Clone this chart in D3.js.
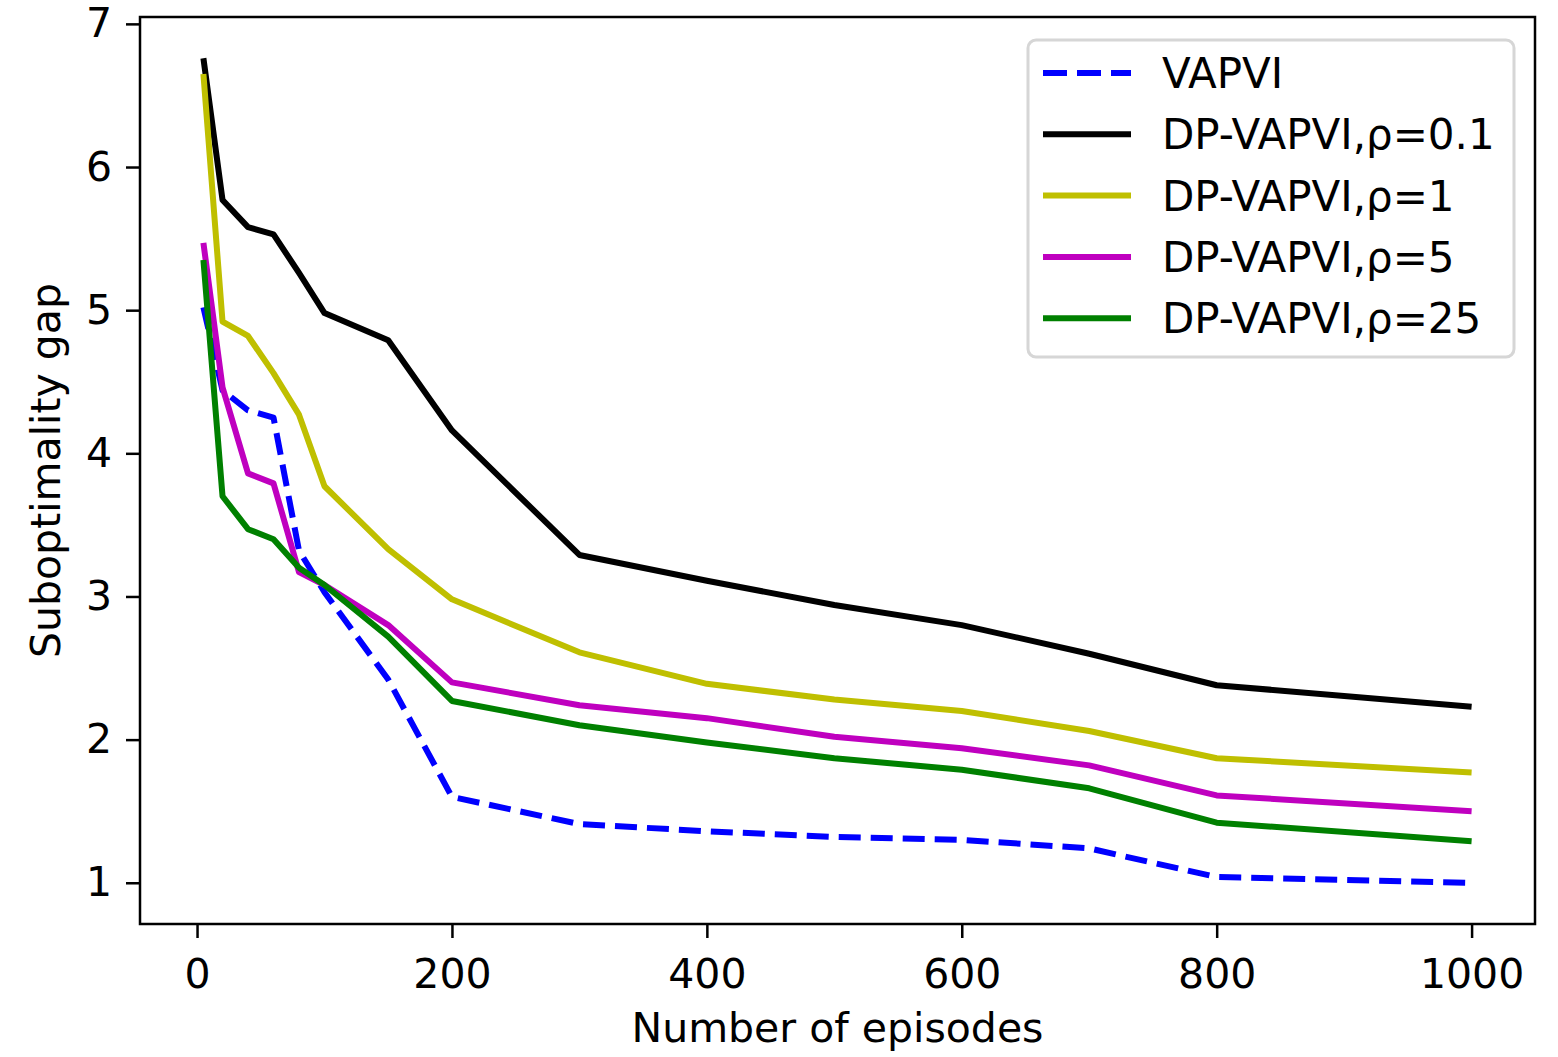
<!doctype html>
<html>
<head>
    <script src="https://d3js.org/d3.v7.min.js"></script>
</head>
<style>
    body { margin: 0; background: white; }
    svg text { font-family: "DejaVu Sans", sans-serif; fill: black; }
</style>
<body>
<script>
    // episodes on x axis
    var episodes = [5, 20, 40, 60, 80, 100, 150, 200, 300, 400, 500, 600, 700, 800, 1000];

    var vapvi   = [5.02, 4.44, 4.30, 4.25, 3.32, 3.03, 2.42, 1.60, 1.41, 1.36, 1.32, 1.30, 1.24, 1.04, 1.00];
    var rho0_1  = [6.76, 5.77, 5.58, 5.53, 5.26, 4.98, 4.79, 4.16, 3.29, 3.11, 2.94, 2.80, 2.60, 2.38, 2.23];
    var rho1    = [6.65, 4.92, 4.82, 4.56, 4.27, 3.77, 3.33, 2.98, 2.61, 2.39, 2.28, 2.20, 2.06, 1.87, 1.77];
    var rho5    = [5.47, 4.46, 3.86, 3.79, 3.17, 3.08, 2.80, 2.40, 2.24, 2.15, 2.02, 1.94, 1.82, 1.61, 1.50];
    var rho25   = [5.35, 3.70, 3.47, 3.40, 3.20, 3.08, 2.72, 2.27, 2.10, 1.98, 1.87, 1.79, 1.66, 1.42, 1.29];

    var names  = ["VAPVI", "DP-VAPVI,ρ=0.1", "DP-VAPVI,ρ=1", "DP-VAPVI,ρ=5", "DP-VAPVI,ρ=25"];
    var colors = ["#0000ff", "#000000", "#bfbf00", "#bf00bf", "#008000"];
    var xTicks = [0, 200, 400, 600, 800, 1000];
    var yTicks = [1, 2, 3, 4, 5, 6, 7];

    var series = [vapvi, rho0_1, rho1, rho5, rho25];

    var width = 1558, height = 1057;
    var plotL = 140, plotR = 1535, plotT = 17, plotB = 924;
    var fontSize = "41px";

    var svg = d3.select("body").append("svg")
        .attr("width", width)
        .attr("height", height);

    var x = d3.scaleLinear().domain([-44.75, 1049.75]).range([plotL, plotR]);
    var y = d3.scaleLinear().domain([0.712, 7.048]).range([plotB, plotT]);

    // lines
    var line = d3.line()
        .x(function(d, i) { return x(episodes[i]); })
        .y(function(d) { return y(d); });

    // draw in matplotlib order so later series sit on top
    series.forEach(function(s, k) {
        svg.append("path")
            .datum(s)
            .attr("d", line)
            .attr("fill", "none")
            .attr("stroke", colors[k])
            .attr("stroke-width", 6)
            .attr("stroke-linejoin", "round")
            .attr("stroke-dasharray", k == 0 ? "22,10" : null);
    });

    // axes
    var xAxis = svg.append("g")
        .attr("transform", "translate(0," + plotB + ")")
        .call(d3.axisBottom(x).tickValues(xTicks).tickFormat(d3.format("d")).tickSize(14).tickPadding(21));
    var yAxis = svg.append("g")
        .attr("transform", "translate(" + plotL + ",0)")
        .call(d3.axisLeft(y).tickValues(yTicks).tickFormat(d3.format("d")).tickSize(14).tickPadding(14));

    [xAxis, yAxis].forEach(function(a) {
        a.select(".domain").remove();
        a.selectAll("line").attr("stroke", "black").attr("stroke-width", 2.5);
        a.selectAll("text").style("font-size", fontSize).attr("font-family", "DejaVu Sans");
    });

    // frame
    svg.append("rect")
        .attr("x", plotL).attr("y", plotT)
        .attr("width", plotR - plotL).attr("height", plotB - plotT)
        .attr("fill", "none")
        .attr("stroke", "black")
        .attr("stroke-width", 2.5);

    // axis labels
    svg.append("text")
        .attr("x", (plotL + plotR) / 2)
        .attr("y", 1042)
        .attr("text-anchor", "middle")
        .style("font-size", fontSize)
        .text("Number of episodes");

    svg.append("text")
        .attr("transform", "translate(60," + (plotT + plotB) / 2 + ") rotate(-90)")
        .attr("text-anchor", "middle")
        .style("font-size", fontSize)
        .text("Suboptimality gap");

    // legend
    var legend = svg.append("g");
    legend.append("rect")
        .attr("x", 1028).attr("y", 40)
        .attr("width", 486).attr("height", 317)
        .attr("rx", 8)
        .attr("fill", "white")
        .attr("fill-opacity", 0.8)
        .attr("stroke", "#d6d6d6")
        .attr("stroke-width", 3);

    names.forEach(function(n, k) {
        var ly = 73 + k * 61.3;
        legend.append("line")
            .attr("x1", 1043).attr("x2", 1131)
            .attr("y1", ly).attr("y2", ly)
            .attr("stroke", colors[k])
            .attr("stroke-width", 6)
            .attr("stroke-dasharray", k == 0 ? "24,10" : null);
        legend.append("text")
            .attr("x", 1162)
            .attr("y", ly)
            .attr("dy", ".36em")
            .style("font-size", "42px")
            .text(n);
    });
</script>
</body>
</html>
